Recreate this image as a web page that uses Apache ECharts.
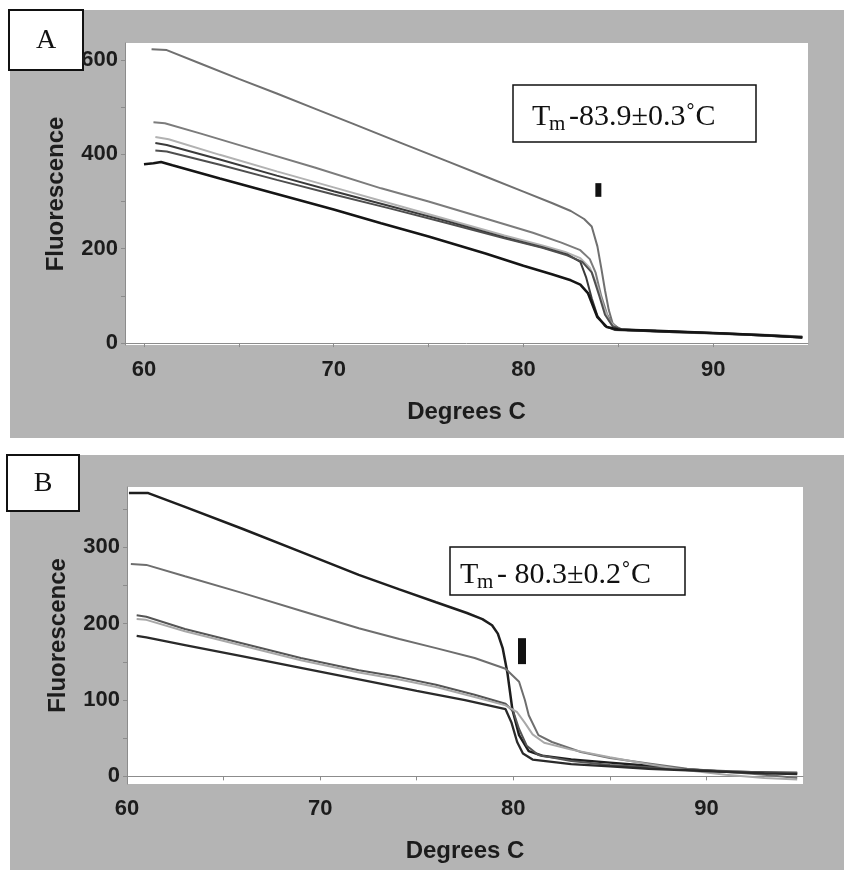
<!DOCTYPE html>
<html>
<head>
<meta charset="utf-8">
<script src="https://cdn.jsdelivr.net/npm/echarts@6.0.0/dist/echarts.min.js"></script>
<style>
  html, body { margin: 0; padding: 0; background: #fff; }
  #chart { width: 844px; height: 870px; }
</style>
</head>
<body>
<div id="chart"></div>
<script>
// melting curves, panel A (temperature, fluorescence)
const curveA1 = [[60.4,623],[61.2,621],[63,592],[65,560],[67,529],[69,497],[71,465],[73.5,425],[76,385],[78,353],[80,321],[81.5,297],[82.5,280],[83.2,263],[83.6,247],[83.9,205],[84.1,160],[84.3,112],[84.5,70],[84.7,42],[85,31],[85.5,27],[87,25],[89,23],[91,20],[93,17],[94.7,14]];
const curveA2 = [[60.5,468],[61.1,466],[63,444],[66,408],[69,372],[72.5,328],[75,300],[78,264],[80.5,234],[82,213],[83,197],[83.5,178],[83.8,150],[84.1,100],[84.4,62],[84.7,40],[85.1,30],[86,27],[88,24],[90,21],[92,17],[94.7,12]];
const curveA3 = [[60.6,437],[61.3,432],[64,399],[67,364],[70,330],[73,296],[76,262],[79,228],[81,207],[82.2,193],[83,180],[83.5,160],[83.9,120],[84.2,80],[84.5,48],[84.9,32],[85.5,27],[88,23],[90,20],[92,17],[94.7,13]];
const curveA4 = [[60.6,424],[61.2,420],[64,389],[67,355],[70,322],[73,290],[76,258],[79,224],[81,203],[82.3,188],[83,172],[83.3,140],[83.6,95],[83.9,58],[84.3,36],[84.8,28],[86,26],[88,23],[90,21],[92,17],[94.7,12]];
const curveA5 = [[60.6,408],[61.2,406],[64,378],[67,346],[70,315],[73,285],[76,254],[79,222],[81,202],[82.3,186],[83.1,172],[83.6,150],[84,100],[84.3,60],[84.7,36],[85.2,29],[87,26],[89,23],[91,20],[93,16],[94.7,13]];
const curveA6 = [[60,379],[60.5,381],[60.9,384],[61.5,377],[64,349],[67,316],[70,283],[72.5,254],[75,226],[78,190],[80,164],[81.5,146],[82.5,133],[83,124],[83.4,106],[83.9,55],[84.4,34],[85,29],[87,26],[89,23],[91,20],[93,16],[94.7,12]];
const tmMarkA = [[83.95,310],[83.95,339]];

// melting curves, panel B
const curveB1 = [[60.1,371],[61.1,371],[63,353],[66,324],[69,294],[72,264],[74.1,245],[76,228],[77.6,214],[78.4,206],[78.9,198],[79.2,187],[79.45,168],[79.7,135],[79.95,88],[80.3,54],[80.8,33],[81.5,27],[83,22],[85,18],[87,14],[89,9],[91,6],[93,5],[94.7,4]];
const curveB2 = [[60.2,278],[61,277],[63,262],[66,240],[69,217],[72,194],[74.1,180],[76,168],[78,155],[79.6,141],[80.3,124],[80.6,100],[80.8,80],[81.3,54],[82,45],[83.5,32],[85,24],[87,17],[89,10],[91,6],[93,2],[94.7,-2]];
const curveB3 = [[60.5,211],[61,209],[63,193],[66,174],[69,155],[72,139],[74.1,130],[76,120],[78,107],[79.6,95],[80,85],[80.3,62],[80.7,40],[81.3,28],[83,20],[85,15],[87,12],[89,9],[91,7],[93,5],[94.7,5]];
const curveB4 = [[60.5,206],[61,205],[63,190],[66,171],[69,152],[72,136],[74.1,127],[76,117],[78,104],[79.6,93],[80.2,84],[80.6,70],[81,55],[81.6,44],[83,35],[85,25],[87,16],[89,8],[91,2],[93,-2],[94.7,-4]];
const curveB5 = [[60.5,184],[61,182],[63,172],[66,157],[69,142],[72.4,125],[75,112],[77.5,100],[79.6,88],[79.9,71],[80.2,45],[80.5,30],[81,22],[83,16],[85,13],[87,10],[89,8],[91,6],[93,4],[94.7,3]];
const tmMarkB = [[80.45,147],[80.45,181]];

const xTicks = [60, 65, 70, 75, 80, 85, 90];
const xLabels = [60, 70, 80, 90];
const yTicksA = [0, 100, 200, 300, 400, 500, 600];
const yLabelsA = [0, 200, 400, 600];
const yTicksB = [0, 50, 100, 150, 200, 250, 300, 350];
const yLabelsB = [0, 100, 200, 300];

const panelLabels = ['A', 'B'];
const tmTexts = ['-83.9±0.3˚C', '- 80.3±0.2˚C'];

const sans = '"Liberation Sans", Arial, sans-serif';
const serif = '"Liberation Serif", "Times New Roman", serif';
const ink = '#1c1c1c';
const panelGray = '#b4b4b4';

function xAxisFor(gridIndex, min) {
    return {
        type: 'value',
        gridIndex: gridIndex,
        min: min,
        max: 95,
        name: 'Degrees C',
        nameLocation: 'middle',
        nameGap: 55,
        nameTextStyle: { fontFamily: sans, fontWeight: 'bold', fontSize: 24, color: ink },
        axisLine: { show: true, lineStyle: { color: '#8c8c8c', width: 1 } },
        axisTick: { show: true, customValues: xTicks, length: 4, lineStyle: { color: '#8c8c8c' } },
        axisLabel: { customValues: xLabels, margin: 14, fontFamily: sans, fontWeight: 'bold', fontSize: 22, color: ink },
        splitLine: { show: false }
    };
}

function yAxisFor(gridIndex, min, max, ticks, labels) {
    return {
        type: 'value',
        gridIndex: gridIndex,
        min: min,
        max: max,
        name: 'Fluorescence',
        nameLocation: 'middle',
        nameRotate: 90,
        nameGap: 57,
        nameTextStyle: { fontFamily: sans, fontWeight: 'bold', fontSize: 24, color: ink },
        axisLine: { show: true, lineStyle: { color: '#8c8c8c', width: 1 } },
        axisTick: { show: true, customValues: ticks, length: 4, lineStyle: { color: '#8c8c8c' } },
        axisLabel: { customValues: labels, margin: 7, fontFamily: sans, fontWeight: 'bold', fontSize: 22, color: ink },
        splitLine: { show: false }
    };
}

function curve(data, gridIndex, color, width) {
    return {
        type: 'line',
        xAxisIndex: gridIndex,
        yAxisIndex: gridIndex,
        data: data,
        showSymbol: false,
        symbol: 'none',
        lineStyle: { color: color, width: width },
        z: 3
    };
}

function tmMark(data, gridIndex, width) {
    return {
        type: 'line',
        xAxisIndex: gridIndex,
        yAxisIndex: gridIndex,
        data: data,
        symbol: 'none',
        lineStyle: { color: '#111', width: width, cap: 'butt' },
        z: 4
    };
}

// white box with a panel letter
function letterBox(label, x, y, w, h) {
    return {
        type: 'group',
        z: 50,
        children: [
            { type: 'rect', shape: { x: x, y: y, width: w, height: h }, style: { fill: '#fff', stroke: '#111', lineWidth: 2 } },
            { type: 'text', x: x + w / 2, y: y + h / 2 + 1, style: { text: label, font: '28px ' + serif, fill: '#111', align: 'center', verticalAlign: 'middle' } }
        ]
    };
}

// Tm annotation box, T with subscript m
function tmBox(rest, x, y, w, h, tx, base) {
    return {
        type: 'group',
        z: 50,
        children: [
            { type: 'rect', shape: { x: x, y: y, width: w, height: h }, style: { fill: '#fff', stroke: '#111', lineWidth: 1.5 } },
            { type: 'text', x: tx, y: base, style: { text: 'T', font: '30px ' + serif, fill: '#111', align: 'left', verticalAlign: 'bottom' } },
            { type: 'text', x: tx + 17, y: base + 3, style: { text: 'm', font: '21px ' + serif, fill: '#111', align: 'left', verticalAlign: 'bottom' } },
            { type: 'text', x: tx + 37, y: base, style: { text: rest, font: '30px ' + serif, fill: '#111', align: 'left', verticalAlign: 'bottom' } }
        ]
    };
}

const chart = echarts.init(document.getElementById('chart'));

const option = {
    animation: false,
    backgroundColor: '#fff',
    grid: [
        { left: 125, top: 43, width: 683, height: 302, show: true, backgroundColor: '#fff', borderWidth: 0 },
        { left: 127, top: 487, width: 676, height: 297, show: true, backgroundColor: '#fff', borderWidth: 0 }
    ],
    xAxis: [xAxisFor(0, 59), xAxisFor(1, 60)],
    yAxis: [
        yAxisFor(0, -4, 636, yTicksA, yLabelsA),
        yAxisFor(1, -10, 379, yTicksB, yLabelsB)
    ],
    graphic: [
        { type: 'rect', z: -10, shape: { x: 10, y: 10, width: 834, height: 428 }, style: { fill: panelGray } },
        { type: 'rect', z: -10, shape: { x: 10, y: 455, width: 834, height: 415 }, style: { fill: panelGray } },
        letterBox(panelLabels[0], 9, 10, 74, 60),
        letterBox(panelLabels[1], 7, 455, 72, 56),
        tmBox(tmTexts[0], 513, 85, 243, 57, 532, 132),
        tmBox(tmTexts[1], 450, 547, 235, 48, 460, 590)
    ],
    series: [
        curve(curveA1, 0, '#707070', 2),
        curve(curveA2, 0, '#7c7c7c', 2),
        curve(curveA3, 0, '#b2b2b2', 2),
        curve(curveA4, 0, '#3a3a3a', 2),
        curve(curveA5, 0, '#4e4e4e', 2),
        curve(curveA6, 0, '#151515', 2.6),
        tmMark(tmMarkA, 0, 6),
        curve(curveB1, 1, '#1e1e1e', 2.5),
        curve(curveB2, 1, '#6e6e6e', 2),
        curve(curveB3, 1, '#555555', 2),
        curve(curveB4, 1, '#a8a8a8', 2),
        curve(curveB5, 1, '#2a2a2a', 2.3),
        tmMark(tmMarkB, 1, 8)
    ]
};

chart.setOption(option);
</script>
</body>
</html>
